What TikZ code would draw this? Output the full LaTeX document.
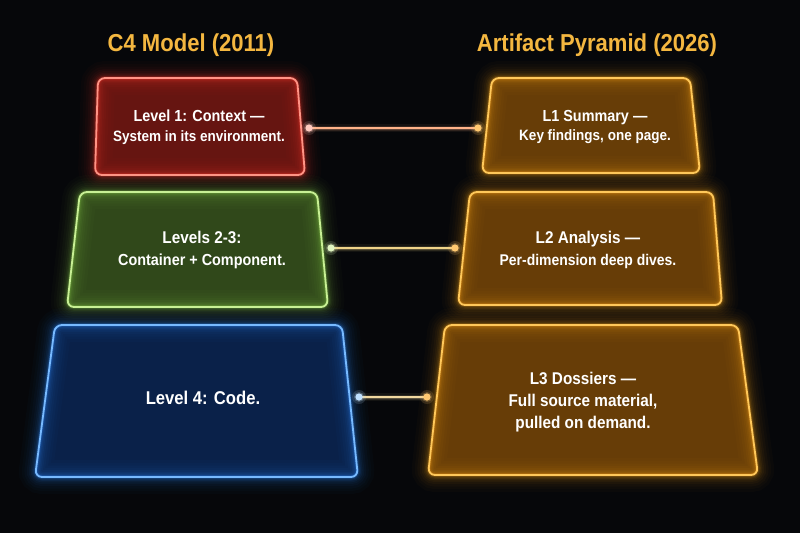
\documentclass[tikz,border=0pt]{standalone}
\usepackage{fontspec}
\setmainfont{Liberation Sans}[FakeStretch=0.9]
\usetikzlibrary{calc}
\definecolor{bg}{HTML}{06070A}
\definecolor{titlec}{HTML}{F4B740}
\definecolor{redb}{HTML}{FF9385}\definecolor{redg}{HTML}{FF3A2E}\definecolor{redf}{HTML}{661511}
\definecolor{grnb}{HTML}{C8F095}\definecolor{grng}{HTML}{8FD44E}\definecolor{grnf}{HTML}{30481A}
\definecolor{blub}{HTML}{78BAFF}\definecolor{blug}{HTML}{2F8BFF}\definecolor{bluf}{HTML}{0A2149}
\definecolor{orb}{HTML}{FFC85A}\definecolor{org}{HTML}{FFA41A}\definecolor{orf}{HTML}{673D07}
\definecolor{wire1}{HTML}{FFB38A}\definecolor{wire2}{HTML}{EFD48A}\definecolor{wire3}{HTML}{F0D8A0}
\begin{document}
\begin{tikzpicture}[x=1pt,y=-1pt,
  neon/.style n args={3}{rounded corners=7pt, preaction={fill=#3},
    preaction={draw=#1,line width=34pt,draw opacity=0.025},
    preaction={draw=#1,line width=28pt,draw opacity=0.025},
    preaction={draw=#1,line width=23pt,draw opacity=0.03},
    preaction={draw=#1,line width=18pt,draw opacity=0.035},
    preaction={draw=#1,line width=14pt,draw opacity=0.045},
    preaction={draw=#1,line width=10.5pt,draw opacity=0.06},
    preaction={draw=#1,line width=7.5pt,draw opacity=0.08},
    preaction={draw=#1,line width=5pt,draw opacity=0.12},
    preaction={draw=#1,line width=3.2pt,draw opacity=0.2},
    draw=#2, line width=1.8pt},
  lbl/.style={text=white, align=center},
  wire/.style={preaction={draw=#1,line width=8pt,draw opacity=0.06},
    preaction={draw=#1,line width=5pt,draw opacity=0.12},
    preaction={draw=#1,line width=3pt,draw opacity=0.25},
    draw=#1, line width=1.3pt},
  title/.style={text=titlec, font=\bfseries\fontsize{24.5}{28}\selectfont}
]
\fill[bg] (0,0) rectangle (800,533);
\useasboundingbox (0,0) rectangle (800,533);

% titles
\node[title] (h1) at (191,45) {C4 Model (2011)};
\node[title] (h2) at (597,45) {Artifact Pyramid (2026)};

% box corners (top left, top right, bottom right, bottom left)
\coordinate (c1tl) at (98,78);  \coordinate (c1tr) at (297,78);
\coordinate (c1br) at (305,175);\coordinate (c1bl) at (95,175);
\coordinate (c2tl) at (80,192); \coordinate (c2tr) at (317,192);
\coordinate (c2br) at (328,307);\coordinate (c2bl) at (67,307);
\coordinate (c3tl) at (55,325); \coordinate (c3tr) at (342,325);
\coordinate (c3br) at (358,477);\coordinate (c3bl) at (35,477);
\coordinate (a1tl) at (492,78); \coordinate (a1tr) at (690,78);
\coordinate (a1br) at (700,173);\coordinate (a1bl) at (482,173);
\coordinate (a2tl) at (470,192);\coordinate (a2tr) at (713,192);
\coordinate (a2br) at (722,305);\coordinate (a2bl) at (458,305);
\coordinate (a3tl) at (445,325);\coordinate (a3tr) at (738,325);
\coordinate (a3br) at (758,475);\coordinate (a3bl) at (428,475);

\foreach \b/\g/\e/\f in {c1/redg/redb/redf, c2/grng/grnb/grnf, c3/blug/blub/bluf,
    a1/org/orb/orf, a2/org/orb/orf, a3/org/orb/orf}{
  \path[neon={\g}{\e}{\f}] (\b tl) -- (\b tr) -- (\b br) -- (\b bl) -- cycle;
}

% texts
\node[lbl, font=\bfseries\fontsize{16}{20}\selectfont] (t1) at (199,127)
  {Level 1: Context —\\\fontsize{15}{20}\selectfont System in its environment.};
\node[lbl, font=\bfseries\fontsize{17}{22}\selectfont] (t2) at (202,250)
  {Levels 2-3:\\\fontsize{16}{22}\selectfont Container + Component.};
\node[lbl, font=\bfseries\fontsize{18.5}{22}\selectfont] (t3) at (203,397.5)
  {Level 4: Code.};
\node[lbl, font=\bfseries\fontsize{16}{20}\selectfont] (t4) at (595,127)
  {L1 Summary —\\\fontsize{15}{20}\selectfont Key findings, one page.};
\node[lbl, font=\bfseries\fontsize{17}{22}\selectfont] (t5) at (588,250)
  {L2 Analysis —\\\fontsize{15.5}{22}\selectfont Per-dimension deep dives.};
\node[lbl, font=\bfseries\fontsize{17}{22}\selectfont] (t6) at (583,402)
  {L3 Dossiers —\\Full source material,\\pulled on demand.};

% connector end points, just outside the box sides
\coordinate (p1) at ($($(c1tr)!0.5!(c1br)$)+(8,1.5)$);
\coordinate (q1) at ($($(a1tl)!0.5!(a1bl)$)+(-9,2.5)$);
\coordinate (p2) at ($($(c2tr)!0.5!(c2br)$)+(8.5,-1.5)$);
\coordinate (q2) at ($($(a2tl)!0.5!(a2bl)$)+(-9,-0.5)$);
\coordinate (p3) at ($($(c3tr)!0.5!(c3br)$)+(9,-4)$);
\coordinate (q3) at ($($(a3tl)!0.5!(a3bl)$)+(-9.5,-3)$);

\draw[wire=wire1] (p1) -- (q1);
\draw[wire=wire2] (p2) -- (q2);
\draw[wire=wire3] (p3) -- (q3);

\foreach \pt/\cc in {p1/FFC9BE, p2/E0F5C0, p3/BFE0FF, q1/FFC870, q2/FFC870, q3/FFC870}{
  \definecolor{dc}{HTML}{\cc}
  \fill[dc, opacity=0.15] (\pt) circle (7pt);
  \fill[dc, opacity=0.25] (\pt) circle (5pt);
  \fill[dc] (\pt) circle (3.6pt);
}
\end{tikzpicture}
\end{document}
